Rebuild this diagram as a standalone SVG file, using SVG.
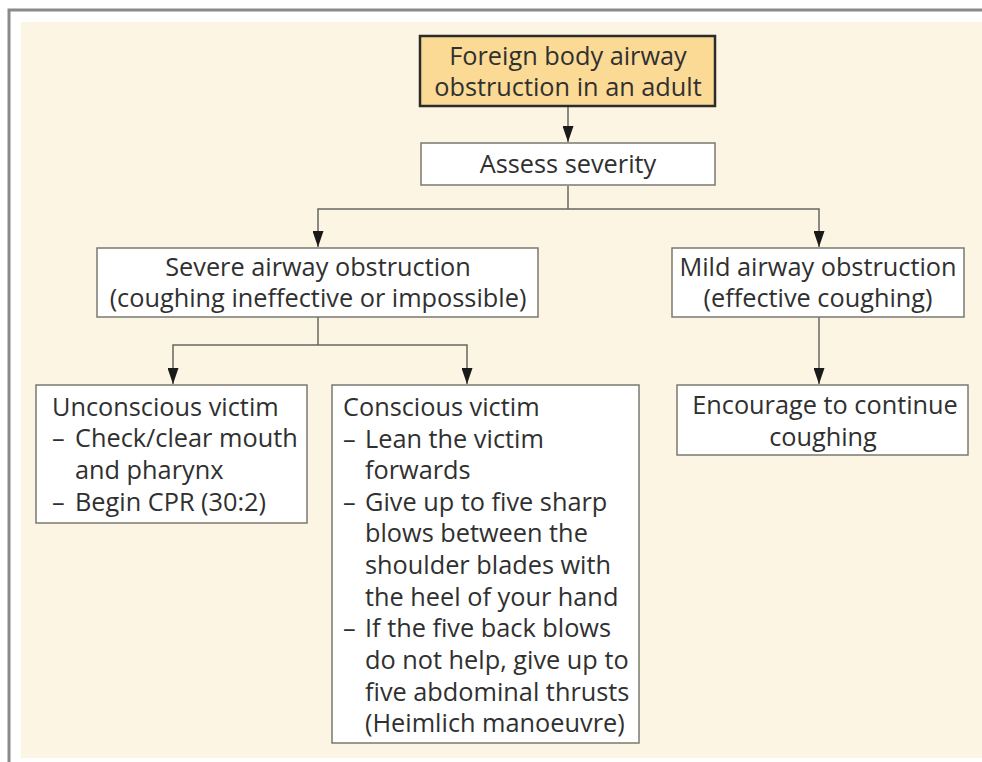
<svg xmlns="http://www.w3.org/2000/svg" width="982" height="762" viewBox="0 0 982 762">
<defs>
<marker id="ah" markerWidth="16" markerHeight="11" refX="16" refY="5.5" orient="auto-start-reverse" markerUnits="userSpaceOnUse" viewBox="0 0 16 11">
<path d="M0,0 L16,5.5 L0,11 Z" fill="#1a1a1a"/>
</marker>
</defs>
<style>
.box{fill:#ffffff;stroke:#7a7a72;stroke-width:1.5}
.top{fill:#fbda95;stroke:#2b2b2b;stroke-width:2.5}
text{font-family:"Open Sans","Noto Sans",sans-serif;font-size:25.3px;fill:#303030}
.c{text-anchor:middle}
.ln{fill:none;stroke:#666660;stroke-width:1.5}
</style>
<rect x="0" y="0" width="982" height="762" fill="#ffffff"/>
<path d="M9,762 V10 H982" fill="none" stroke="#8a8a8a" stroke-width="3"/>
<rect x="21" y="22" width="961" height="736" fill="#fdf5e3"/>
<g id="connectors">
<line class="ln" x1="568" y1="107" x2="568" y2="142" marker-end="url(#ah)"/>
<polyline class="ln" points="568,186 568,209"/>
<polyline class="ln" points="318,247 318,209 819,209 819,247" marker-start="url(#ah)" marker-end="url(#ah)"/>
<polyline class="ln" points="318,317 318,345"/>
<polyline class="ln" points="173,384 173,345 467,345 467,384" marker-start="url(#ah)" marker-end="url(#ah)"/>
<line class="ln" x1="819" y1="317" x2="819" y2="384" marker-end="url(#ah)"/>
</g>
<g id="n-start">
<rect class="top" x="420" y="36" width="295" height="70"/>
<text class="c" x="568" y="65">Foreign body airway</text>
<text class="c" x="568" y="96">obstruction in an adult</text>
</g>
<g id="n-assess">
<rect class="box" x="421" y="143" width="294" height="42"/>
<text class="c" x="568" y="173">Assess severity</text>
</g>
<g id="n-severe">
<rect class="box" x="97" y="248" width="441" height="69"/>
<text class="c" x="318" y="276">Severe airway obstruction</text>
<text class="c" x="318" y="307">(coughing ineffective or impossible)</text>
</g>
<g id="n-mild">
<rect class="box" x="672" y="248" width="292" height="69"/>
<text class="c" x="818" y="276">Mild airway obstruction</text>
<text class="c" x="818" y="307">(effective coughing)</text>
</g>
<g id="n-encourage">
<rect class="box" x="677" y="385" width="291" height="70"/>
<text class="c" x="825" y="414">Encourage to continue</text>
<text class="c" x="823" y="446">coughing</text>
</g>
<g id="n-unconscious">
<rect class="box" x="36" y="385" width="271" height="138"/>
<text x="52" y="416">Unconscious victim</text>
<text x="52" y="447">–</text><text x="75" y="447">Check/clear mouth</text>
<text x="75" y="479">and pharynx</text>
<text x="52" y="511">–</text><text x="75" y="511">Begin CPR (30:2)</text>
</g>
<g id="n-conscious">
<rect class="box" x="332" y="385" width="307" height="358"/>
<text x="343" y="416">Conscious victim</text>
<text x="343" y="448">–</text><text x="365" y="448">Lean the victim</text>
<text x="365" y="479">forwards</text>
<text x="343" y="511">–</text><text x="365" y="511">Give up to five sharp</text>
<text x="365" y="542">blows between the</text>
<text x="365" y="574">shoulder blades with</text>
<text x="365" y="606">the heel of your hand</text>
<text x="343" y="637">–</text><text x="365" y="637">If the five back blows</text>
<text x="365" y="669">do not help, give up to</text>
<text x="365" y="701">five abdominal thrusts</text>
<text x="365" y="732">(Heimlich manoeuvre)</text>
</g>
</svg>
